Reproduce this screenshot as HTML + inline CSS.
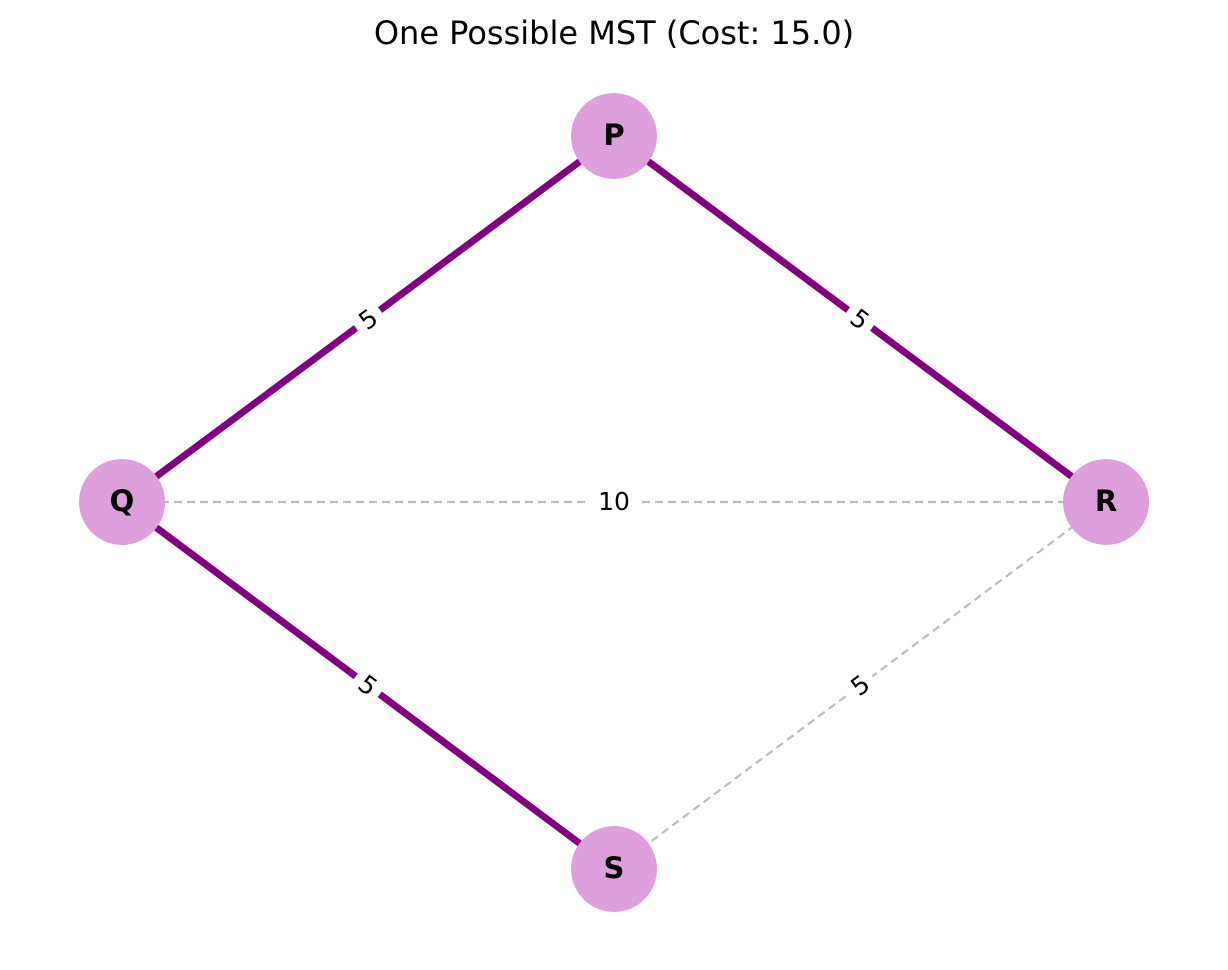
<!DOCTYPE html>
<html><head><meta charset="utf-8"><style>body{margin:0;background:#fff}</style></head>
<body>
<svg width="1228" height="965" xmlns="http://www.w3.org/2000/svg" font-family="Liberation Sans, DejaVu Sans, sans-serif">
<rect width="1228" height="965" fill="#fff"/>
<text x="614" y="44" font-size="32" text-anchor="middle" font-family="DejaVu Sans, sans-serif">One Possible MST (Cost: 15.0)</text>
<g stroke="#bbbbbb" stroke-width="2.2" stroke-dasharray="8,5">
<line x1="122" y1="502" x2="1106" y2="502"/>
<line x1="1106" y1="502" x2="614" y2="869"/>
</g>
<g stroke="#800080" stroke-width="7">
<line x1="122" y1="502" x2="614" y2="136"/>
<line x1="614" y1="136" x2="1106" y2="502"/>
<line x1="122" y1="502" x2="614" y2="869"/>
</g>
<g font-size="25" text-anchor="middle" font-family="DejaVu Sans, sans-serif">
<rect x="588" y="486" width="52" height="32" fill="#fff"/>
<text x="614" y="510">10</text>
<g transform="translate(368,319) rotate(-36.6)"><rect x="-15" y="-17" width="30" height="34" fill="#fff"/><text y="9">5</text></g>
<g transform="translate(860,319) rotate(36.6)"><rect x="-15" y="-17" width="30" height="34" fill="#fff"/><text y="9">5</text></g>
<g transform="translate(368,685) rotate(36.6)"><rect x="-15" y="-17" width="30" height="34" fill="#fff"/><text y="9">5</text></g>
<g transform="translate(860,685) rotate(-36.6)"><rect x="-15" y="-17" width="30" height="34" fill="#fff"/><text y="9">5</text></g>
</g>
<g fill="#DDA0DD">
<circle cx="614" cy="136" r="43"/><circle cx="122" cy="502" r="43"/>
<circle cx="1106" cy="502" r="43"/><circle cx="614" cy="869" r="43"/>
</g>
<g font-size="29" font-weight="bold" text-anchor="middle" font-family="DejaVu Sans, sans-serif">
<text x="614" y="145">P</text><text x="122" y="511">Q</text>
<text x="1106" y="511">R</text><text x="614" y="878">S</text>
</g>
</svg>
</body></html>
